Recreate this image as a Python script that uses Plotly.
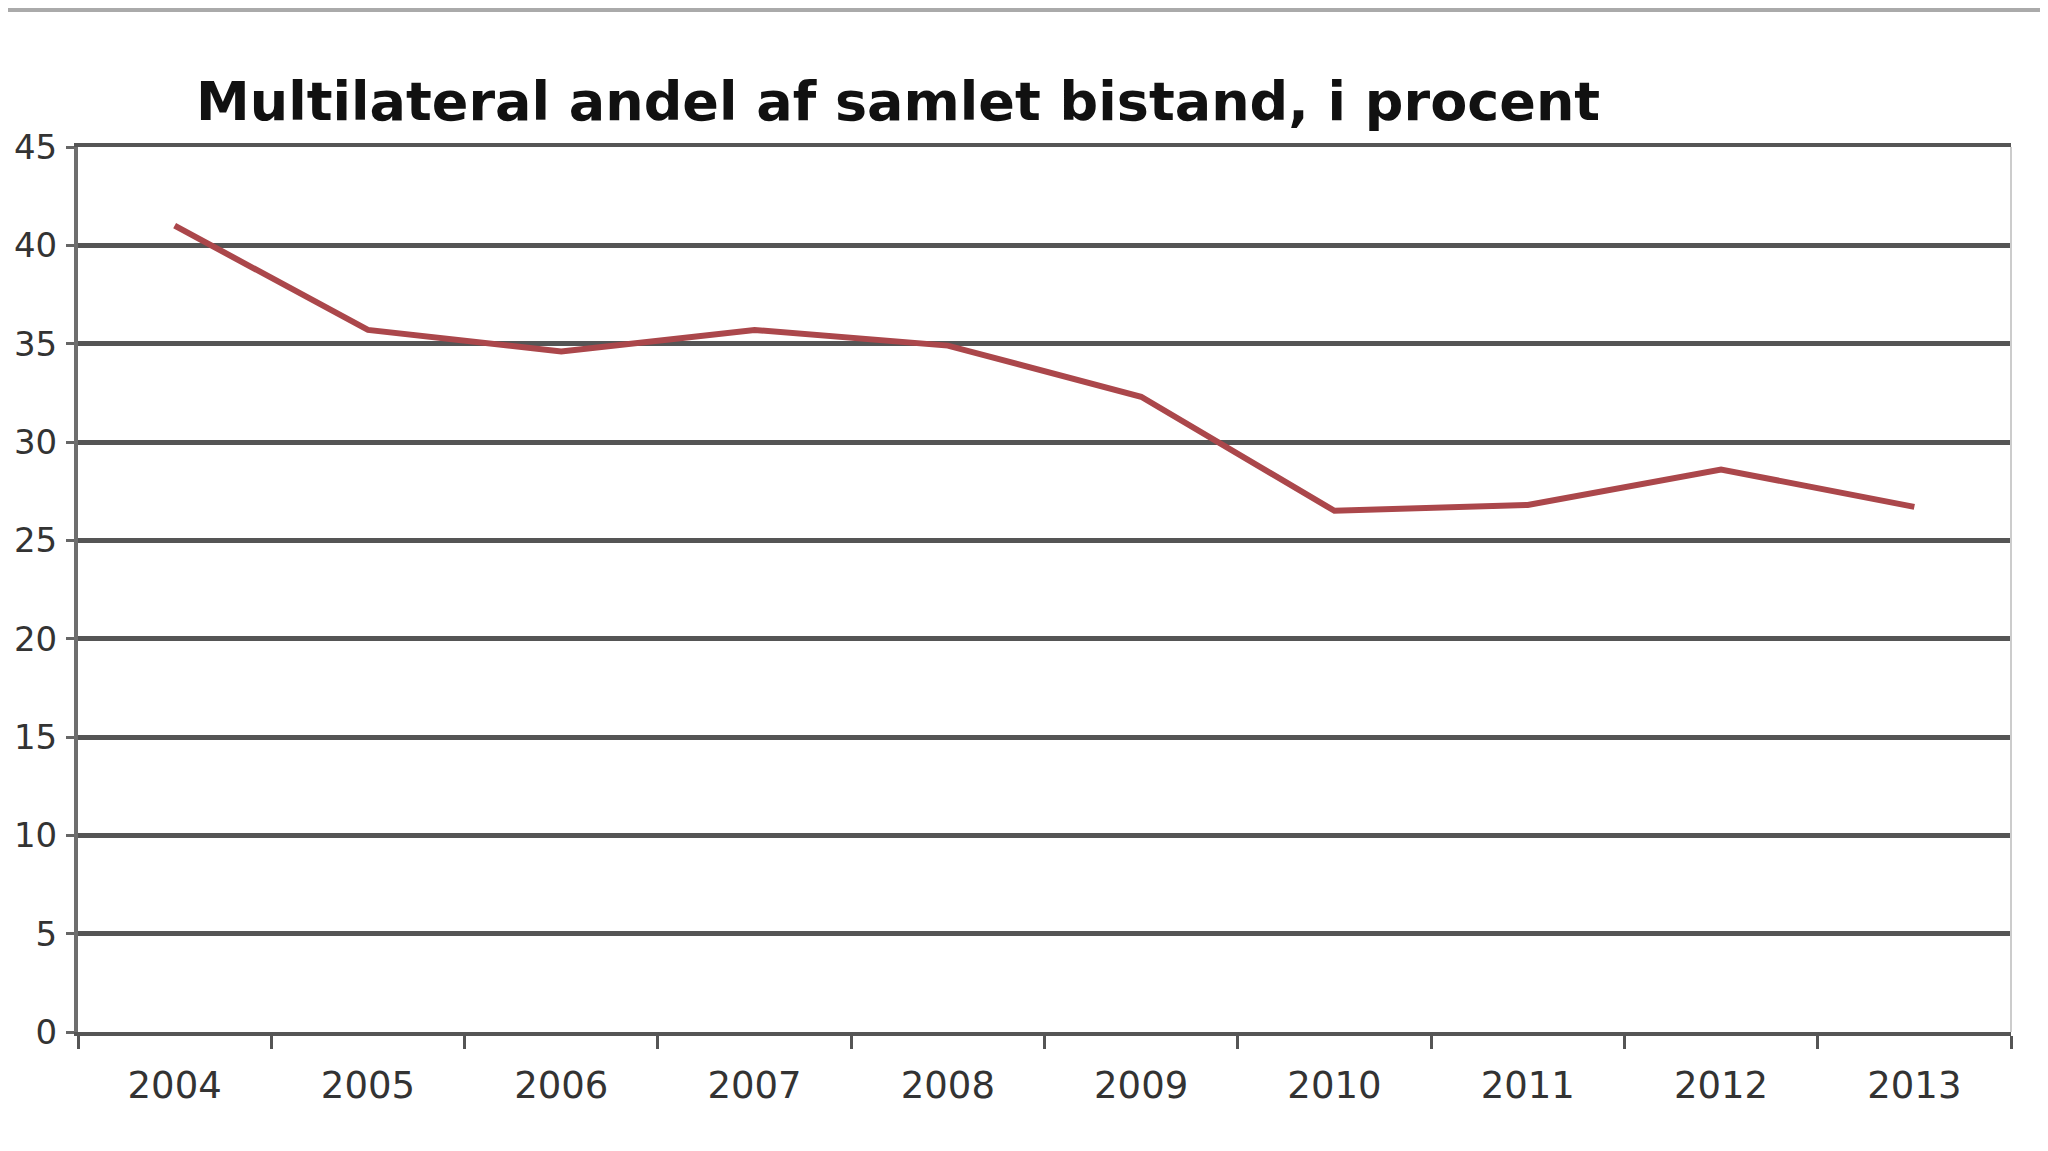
import plotly.graph_objects as go

# Multilateral share of total aid, percent
years = ["2004", "2005", "2006", "2007", "2008", "2009", "2010", "2011", "2012", "2013"]
share = [41.0, 35.7, 34.6, 35.7, 34.9, 32.3, 26.5, 26.8, 28.6, 26.7]
y_ticks = [0, 5, 10, 15, 20, 25, 30, 35, 40, 45]

title_text = "Multilateral andel af samlet bistand, i procent"

fig = go.Figure()
fig.add_trace(go.Scatter(
    x=years, y=share, mode="lines",
    line=dict(color="#ab474b", width=6),
    showlegend=False,
))

# the page has an 8px body margin, so margins are shifted to compensate
fig.update_layout(
    width=2048, height=1151,
    margin=dict(l=70, r=45, t=139, b=127),
    paper_bgcolor="white", plot_bgcolor="white",
    font=dict(family="DejaVu Sans", color="#333333"),
    title=dict(
        text=title_text,
        font=dict(family="DejaVu Sans", size=54, color="#111111", weight="bold"),
        x=188 / 2048, xanchor="left", xref="container",
        y=1 - 93 / 1151, yanchor="middle", yref="container",
    ),
    xaxis=dict(
        type="category", range=[-0.5, 9.5], automargin=False,
        tickson="boundaries", ticks="outside", ticklen=13, tickwidth=3, tickcolor="#555555",
        showline=True, linecolor="#555555", linewidth=4, mirror=True,
        showgrid=False, ticklabelstandoff=18,
        tickfont=dict(size=37, color="#333333"),
    ),
    yaxis=dict(
        range=[0, 45], tickvals=y_ticks, automargin=False,
        ticks="outside", ticklen=8, tickwidth=3, tickcolor="#666666",
        showline=True, linecolor="#6e6e6e", linewidth=4,
        showgrid=True, gridcolor="#555555", gridwidth=5,
        zeroline=False, ticklabelstandoff=2,
        tickfont=dict(size=34, color="#333333"),
    ),
    shapes=[
        dict(type="line", xref="paper", yref="paper", x0=1, x1=1, y0=0, y1=1,
             line=dict(color="#cccccc", width=2)),
        dict(type="line", xref="paper", yref="paper", x0=-0.05, x1=1.03,
             y0=1 + 137 / 885, y1=1 + 137 / 885,
             line=dict(color="#aaaaaa", width=4)),
    ],
)

fig.write_html("out.html")
